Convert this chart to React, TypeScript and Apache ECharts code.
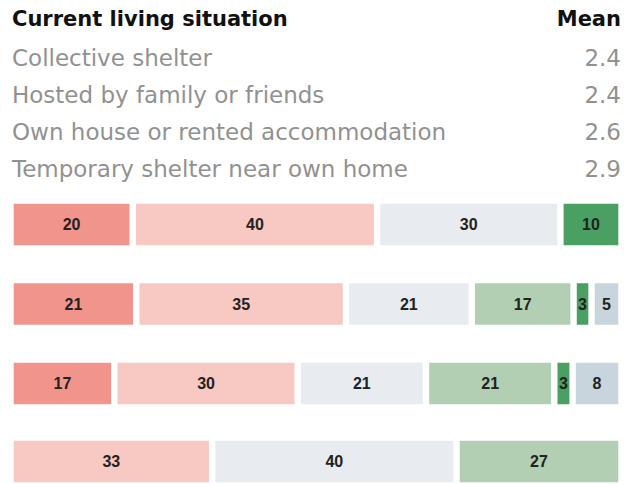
import React, { useEffect, useRef } from "react";
import * as echarts from "echarts";

const situations = [
  "Collective shelter",
  "Hosted by family or friends",
  "Own house or rented accommodation",
  "Temporary shelter near own home",
];
const means = ["2.4", "2.4", "2.6", "2.9"];
const headerLeft = "Current living situation";
const headerRight = "Mean";

const levels = ["Very negative", "Negative", "Neutral", "Positive", "Very positive", "Don't know"];
const veryNegative = [20, 21, 17, null];
const negative = [40, 35, 30, 33];
const neutral = [30, 21, 21, 40];
const positive = [null, 17, 21, 27];
const veryPositive = [10, 3, 3, null];
const dontKnow = [null, 5, 8, null];

const levelColors = ["#F1958C", "#F8C8C3", "#E8EBEF", "#B2CFB3", "#4A9F63", "#C9D5DD"];

export default function App() {
  const ref = useRef<HTMLDivElement>(null);
  useEffect(() => {
    document.body.style.margin = "0";
    if (!ref.current) return;
    const chart = echarts.init(ref.current, null, { renderer: "svg" });
    const rows = [veryNegative, negative, neutral, positive, veryPositive, dontKnow];
    const textFont = "'DejaVu Sans', sans-serif";
    const grids: any[] = [];
    const xAxes: any[] = [];
    const yAxes: any[] = [];
    const series: any[] = [];
    situations.forEach((s, i) => {
      const total = rows.reduce((a, r) => a + (r[i] ?? 0), 0);
      grids.push({ left: 10.5, right: 10.5, top: 200.5 + i * 79.5, height: 48 });
      xAxes.push({ type: "value", gridIndex: i, min: 0, max: total, show: false });
      yAxes.push({ type: "category", gridIndex: i, data: [s], show: false });
      levels.forEach((lv, k) => {
        const v = rows[k][i];
        if (v == null) return;
        series.push({
          type: "bar",
          name: lv,
          xAxisIndex: i,
          yAxisIndex: i,
          stack: "row" + i,
          barWidth: 48,
          data: [v],
          itemStyle: { color: levelColors[k], borderColor: "#ffffff", borderWidth: 3.2 },
          label: {
            show: true,
            position: "inside",
            color: "#222222",
            fontWeight: "bold",
            fontSize: 16,
            fontFamily: "'Liberation Sans', Arial, sans-serif",
          },
        });
      });
    });
    const mk = (text: string, x: number, y: number, align: string, bold: boolean) => ({
      type: "text",
      x,
      y,
      style: {
        text,
        x: 0,
        y: 0,
        align,
        verticalAlign: "middle",
        textAlign: align,
        textVerticalAlign: "middle",
        fontFamily: textFont,
        fontWeight: bold ? "bold" : "normal",
        fontSize: bold ? 21 : 23,
        fill: bold ? "#111111" : "#919191",
      },
    });
    const graphics: any[] = [
      mk(headerLeft, 12, 19, "left", true),
      mk(headerRight, 621, 19, "right", true),
    ];
    situations.forEach((s, i) => {
      graphics.push(mk(s, 12, 57.5 + i * 37, "left", false));
      graphics.push(mk(means[i], 621, 57.5 + i * 37, "right", false));
    });
    chart.setOption({
      animation: false,
      grid: grids,
      xAxis: xAxes,
      yAxis: yAxes,
      series,
      graphic: graphics,
    });
    return () => chart.dispose();
  }, []);
  return <div ref={ref} style={{ width: 632, height: 484 }} />;
}
